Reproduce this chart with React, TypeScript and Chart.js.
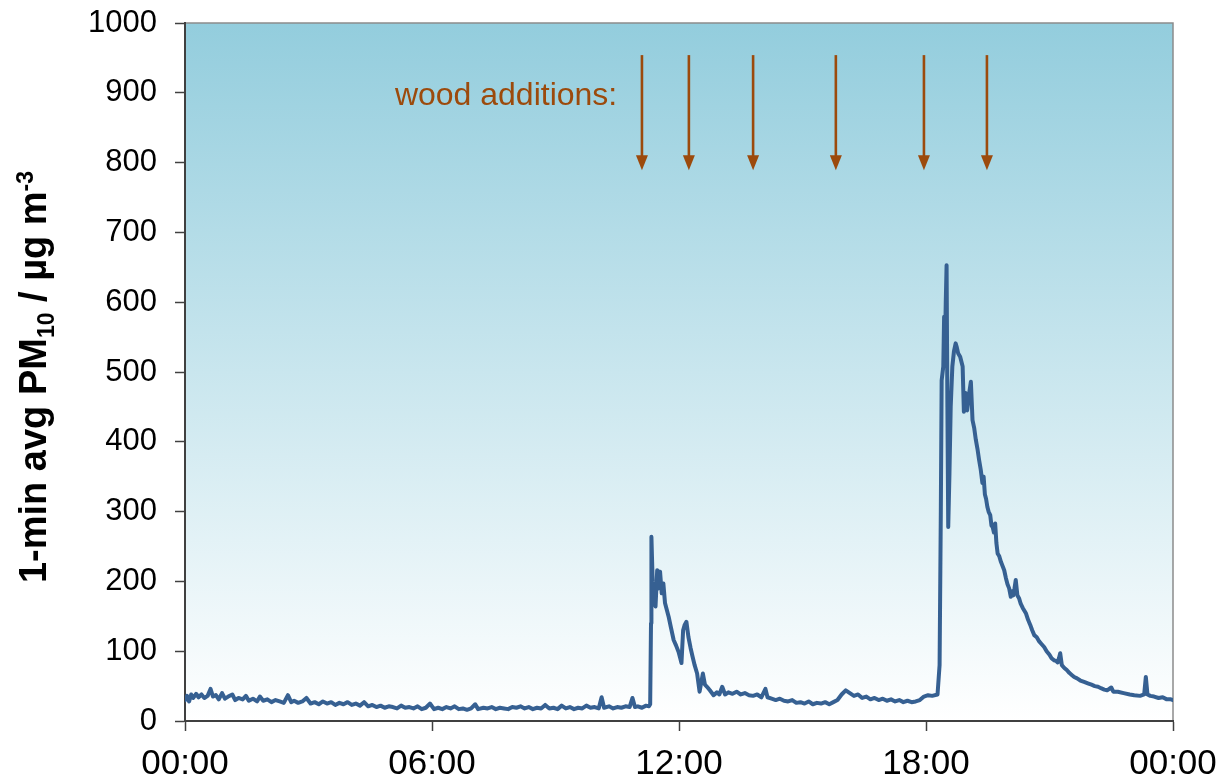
import React, { useEffect, useRef } from "react";
import { Chart, registerables } from "chart.js";

Chart.register(...registerables);

// time of day in hours (0 = 00:00, 24 = next 00:00)
const times: number[] = [
  0.0, 0.05, 0.1, 0.15, 0.2, 0.27, 0.33, 0.4, 0.47, 0.55, 0.62, 0.68, 0.75, 0.82, 0.9, 0.97,
  1.05, 1.15, 1.22, 1.3, 1.4, 1.48, 1.55, 1.65, 1.75, 1.82, 1.9, 2.0, 2.1, 2.2, 2.3, 2.4,
  2.5, 2.58, 2.65, 2.75, 2.85, 2.95, 3.05, 3.15, 3.25, 3.35, 3.45, 3.55, 3.65, 3.75, 3.85, 3.95,
  4.05, 4.15, 4.25, 4.35, 4.45, 4.55, 4.65, 4.75, 4.85, 4.95, 5.05, 5.15, 5.25, 5.35, 5.45, 5.55,
  5.65, 5.75, 5.85, 5.95, 6.05, 6.15, 6.25, 6.35, 6.45, 6.55, 6.65, 6.75, 6.85, 6.95, 7.05, 7.12,
  7.25, 7.35, 7.45, 7.55, 7.65, 7.75, 7.85, 7.95, 8.05, 8.15, 8.25, 8.35, 8.45, 8.55, 8.65, 8.75,
  8.85, 8.95, 9.05, 9.15, 9.25, 9.35, 9.45, 9.55, 9.65, 9.75, 9.85, 9.95, 10.05, 10.12, 10.18, 10.3,
  10.4, 10.5, 10.6, 10.7, 10.8, 10.87, 10.93, 11.0, 11.1, 11.2, 11.27, 11.3,
  11.32, 11.33, 11.36, 11.4, 11.43, 11.47, 11.5, 11.54, 11.58, 11.62, 11.66, 11.7, 11.75, 11.8, 11.87, 11.93,
  11.99, 12.03, 12.06, 12.1, 12.14, 12.18, 12.23, 12.28, 12.33, 12.38, 12.44, 12.5, 12.54, 12.58, 12.63, 12.68,
  12.75, 12.84, 12.92, 12.98, 13.05, 13.12, 13.2, 13.3, 13.4, 13.5, 13.6, 13.7, 13.8, 13.9, 14.0, 14.1,
  14.15, 14.25, 14.35, 14.45, 14.55, 14.65, 14.75, 14.85, 14.95, 15.05, 15.15, 15.25, 15.35, 15.45, 15.55, 15.65,
  15.75, 15.85, 15.95, 16.05, 16.15, 16.25, 16.35, 16.45, 16.55, 16.65, 16.75, 16.85, 16.95, 17.05, 17.15, 17.25,
  17.35, 17.45, 17.55, 17.65, 17.75, 17.85, 17.95, 18.05, 18.15, 18.28,
  18.33, 18.36, 18.38, 18.42, 18.44, 18.46, 18.48, 18.5, 18.52, 18.54, 18.57, 18.6, 18.64, 18.68, 18.72, 18.75,
  18.78, 18.83, 18.89, 18.92, 18.96, 19.0, 19.05, 19.09,
  19.13, 19.17, 19.21, 19.25, 19.29, 19.33, 19.37, 19.4, 19.43, 19.46, 19.49, 19.52, 19.56, 19.59, 19.62, 19.65,
  19.68, 19.71, 19.74, 19.78, 19.82, 19.86, 19.9, 19.94, 19.98, 20.02, 20.06, 20.09, 20.12, 20.15, 20.18, 20.22,
  20.26, 20.3, 20.35, 20.39, 20.43, 20.48, 20.53, 20.58, 20.63, 20.69, 20.75, 20.81, 20.87, 20.93, 21.0, 21.05,
  21.11, 21.16, 21.2, 21.23, 21.26, 21.3, 21.36, 21.42, 21.48, 21.54, 21.6, 21.67, 21.75, 21.84, 21.93, 22.02,
  22.1, 22.18, 22.25, 22.33, 22.4, 22.5, 22.55, 22.66, 22.8, 22.95, 23.06, 23.2, 23.3, 23.34, 23.38, 23.45,
  23.54, 23.65, 23.75, 23.85, 23.95, 24.0,
];

// 1-min average PM10, µg m-3
const pm10: number[] = [
  30, 36, 28, 38, 33, 39, 34, 38, 33, 36, 46, 35, 37, 31, 40, 32,
  35, 38, 30, 33, 31, 36, 29, 32, 28, 35, 29, 31, 27, 30, 28, 26,
  37, 27, 29, 26, 28, 33, 25, 27, 24, 28, 25, 27, 23, 26, 24, 27,
  23, 25, 22, 27, 21, 23, 20, 22, 19, 21, 20, 18, 22, 19, 20, 18,
  21, 17, 19, 25, 17, 19, 17, 20, 18, 21, 17, 18, 16, 18, 24, 17,
  19, 18, 20, 17, 19, 18, 17, 20, 19, 21, 18, 20, 17, 19, 18, 23,
  18, 19, 17, 22, 18, 20, 17, 19, 18, 22, 19, 20, 18, 34, 19, 21,
  18, 20, 19, 21, 20, 33, 20, 21, 19, 22, 21, 24,
  140, 264, 200, 170, 164, 216, 190, 214, 183, 197, 169, 160, 149, 135, 116, 108,
  99, 90, 83, 130, 138, 142, 120, 105, 92, 80, 68, 42, 55, 68, 52, 49,
  44, 37, 41, 38, 49, 38, 41, 39, 42, 38, 40, 37, 36, 38, 34, 46,
  34, 32, 30, 32, 29, 28, 30, 26, 27, 25, 28, 24, 26, 25, 27, 24,
  27, 30, 38, 44, 40, 36, 38, 33, 35, 31, 33, 30, 32, 29, 31, 28,
  30, 27, 29, 27, 28, 30, 35, 37, 36, 38,
  80, 300, 488, 508, 579, 531, 600, 653, 450, 278, 355, 450, 508, 530, 541, 535,
  527, 522, 508, 443, 470, 445, 470, 486,
  431, 420, 403, 390, 374, 360, 341, 350, 325, 318, 307, 300, 295, 280, 278, 270,
  283, 255, 240, 236, 228, 222, 216, 205, 196, 190, 178, 186, 180, 190, 202, 180,
  176, 168, 162, 158, 154, 145, 138, 130, 123, 120, 114, 110, 106, 100, 95, 90,
  87, 86, 84, 90, 97, 80, 76, 73, 69, 66, 63, 61, 58, 56, 54, 52,
  50, 49, 47, 45, 44, 48, 42, 42, 40, 38, 37, 36, 38, 63, 38, 36,
  35, 33, 34, 31, 31, 30,
];

const xTickLabels: string[] = ["00:00", "06:00", "12:00", "18:00", "00:00"];

// wood additions (hours)
const woodAdditions: number[] = [11.1, 12.24, 13.8, 15.81, 17.95, 19.48];
const arrowTopValue = 954;
const arrowTipValue = 789;
const annotationText = "wood additions:";

const BROWN = "#9C4A0C";
const FONT = '"Liberation Sans", Arial, Helvetica, sans-serif';

const backgroundPlugin = {
  id: "bgGradient",
  beforeDraw(chart: any) {
    const { ctx, chartArea } = chart;
    if (!chartArea) return;
    const g = ctx.createLinearGradient(0, chartArea.top, 0, chartArea.bottom);
    g.addColorStop(0, "#93CDDD");
    g.addColorStop(1, "#FFFFFF");
    ctx.save();
    ctx.fillStyle = g;
    ctx.fillRect(chartArea.left, chartArea.top, chartArea.right - chartArea.left, chartArea.bottom - chartArea.top);
    ctx.strokeStyle = "#8C8C8C";
    ctx.lineWidth = 1.5;
    ctx.beginPath();
    ctx.moveTo(chartArea.left, chartArea.top);
    ctx.lineTo(chartArea.right, chartArea.top);
    ctx.lineTo(chartArea.right, chartArea.bottom);
    ctx.stroke();
    ctx.restore();
  },
};

const annotationPlugin = {
  id: "woodArrows",
  afterDatasetsDraw(chart: any) {
    const { ctx } = chart;
    const xs = chart.scales.x;
    const ys = chart.scales.y;
    ctx.save();
    ctx.strokeStyle = BROWN;
    ctx.fillStyle = BROWN;
    ctx.lineWidth = 2.6;
    const yTop = ys.getPixelForValue(arrowTopValue);
    const yTip = ys.getPixelForValue(arrowTipValue);
    for (const t of woodAdditions) {
      const x = xs.getPixelForValue(t);
      ctx.beginPath();
      ctx.moveTo(x, yTop);
      ctx.lineTo(x, yTip - 12);
      ctx.stroke();
      ctx.beginPath();
      ctx.moveTo(x - 6, yTip - 15);
      ctx.lineTo(x + 6, yTip - 15);
      ctx.lineTo(x, yTip);
      ctx.closePath();
      ctx.fill();
    }
    ctx.font = `32px ${FONT}`;
    ctx.textAlign = "right";
    ctx.textBaseline = "alphabetic";
    ctx.fillText(annotationText, xs.getPixelForValue(10.5), ys.getPixelForValue(882));
    ctx.restore();
  },
};

const yTitlePlugin = {
  id: "yTitle",
  afterDraw(chart: any) {
    const { ctx, chartArea } = chart;
    const main = `bold 38px ${FONT}`;
    const small = `bold 23px ${FONT}`;
    const parts = [
      { t: "1-min avg PM", f: main, dy: 0 },
      { t: "10", f: small, dy: 8 },
      { t: " / \u00B5g m", f: main, dy: 0 },
      { t: "-3", f: small, dy: -13 },
    ];
    ctx.save();
    let total = 0;
    for (const p of parts) {
      ctx.font = p.f;
      total += ctx.measureText(p.t).width;
    }
    const cy = (chartArea.top + chartArea.bottom) / 2 + 5;
    ctx.translate(46, cy);
    ctx.rotate(-Math.PI / 2);
    ctx.fillStyle = "#000";
    ctx.textBaseline = "alphabetic";
    ctx.textAlign = "left";
    let x = -total / 2;
    for (const p of parts) {
      ctx.font = p.f;
      ctx.fillText(p.t, x, p.dy);
      x += ctx.measureText(p.t).width;
    }
    ctx.restore();
  },
};

const zeroPad = (s: any) => {
  s.paddingTop = 0;
  s.paddingBottom = 0;
  s.paddingLeft = 0;
  s.paddingRight = 0;
};

export default function App() {
  const ref = useRef<HTMLCanvasElement | null>(null);

  useEffect(() => {
    document.body.style.margin = "0";
    const canvas = ref.current;
    if (!canvas) return;
    const chart = new Chart(canvas, {
      type: "line",
      data: {
        datasets: [
          {
            label: "PM10",
            data: times.map((t, i) => ({ x: t, y: pm10[i] })),
            borderColor: "#366092",
            borderWidth: 4,
            pointRadius: 0,
            tension: 0,
            fill: false,
            borderJoinStyle: "round",
            borderCapStyle: "round",
          },
        ],
      },
      options: {
        responsive: false,
        animation: false,
        layout: { padding: { top: 23, right: 52, left: 0, bottom: 0 } },
        plugins: {
          legend: { display: false },
          tooltip: { enabled: false },
        },
        scales: {
          x: {
            type: "linear",
            min: 0,
            max: 24,
            afterFit: (s: any) => {
              s.height = 62;
              zeroPad(s);
            },
            afterBuildTicks: (s: any) => {
              s.ticks = [0, 6, 12, 18, 24].map((v) => ({ value: v }));
            },
            ticks: {
              stepSize: 6,
              autoSkip: false,
              maxRotation: 0,
              padding: 12,
              color: "#000",
              font: { family: FONT, size: 35 },
              callback: (v: any) => xTickLabels[Math.round(Number(v) / 6)] ?? "",
            },
            grid: {
              drawOnChartArea: false,
              drawTicks: true,
              tickLength: 10,
              tickColor: "#404040",
              tickWidth: 1.5,
            },
            border: { display: true, color: "#404040", width: 2 },
          },
          y: {
            min: 0,
            max: 1000,
            afterFit: (s: any) => {
              s.width = 185;
              zeroPad(s);
            },
            ticks: {
              stepSize: 100,
              padding: 18,
              color: "#000",
              font: { family: FONT, size: 31 },
              callback: (v: any) => String(v),
            },
            grid: {
              drawOnChartArea: false,
              drawTicks: true,
              tickLength: 10,
              tickColor: "#404040",
              tickWidth: 1.5,
            },
            border: { display: true, color: "#404040", width: 2 },
          },
        },
      },
      plugins: [backgroundPlugin, annotationPlugin, yTitlePlugin],
    } as any);
    return () => chart.destroy();
  }, []);

  return (
    <div style={{ position: "fixed", left: 0, top: 0, width: 1225, height: 783, background: "#fff" }}>
      <canvas ref={ref} width={1225} height={783} style={{ display: "block" }} />
    </div>
  );
}
